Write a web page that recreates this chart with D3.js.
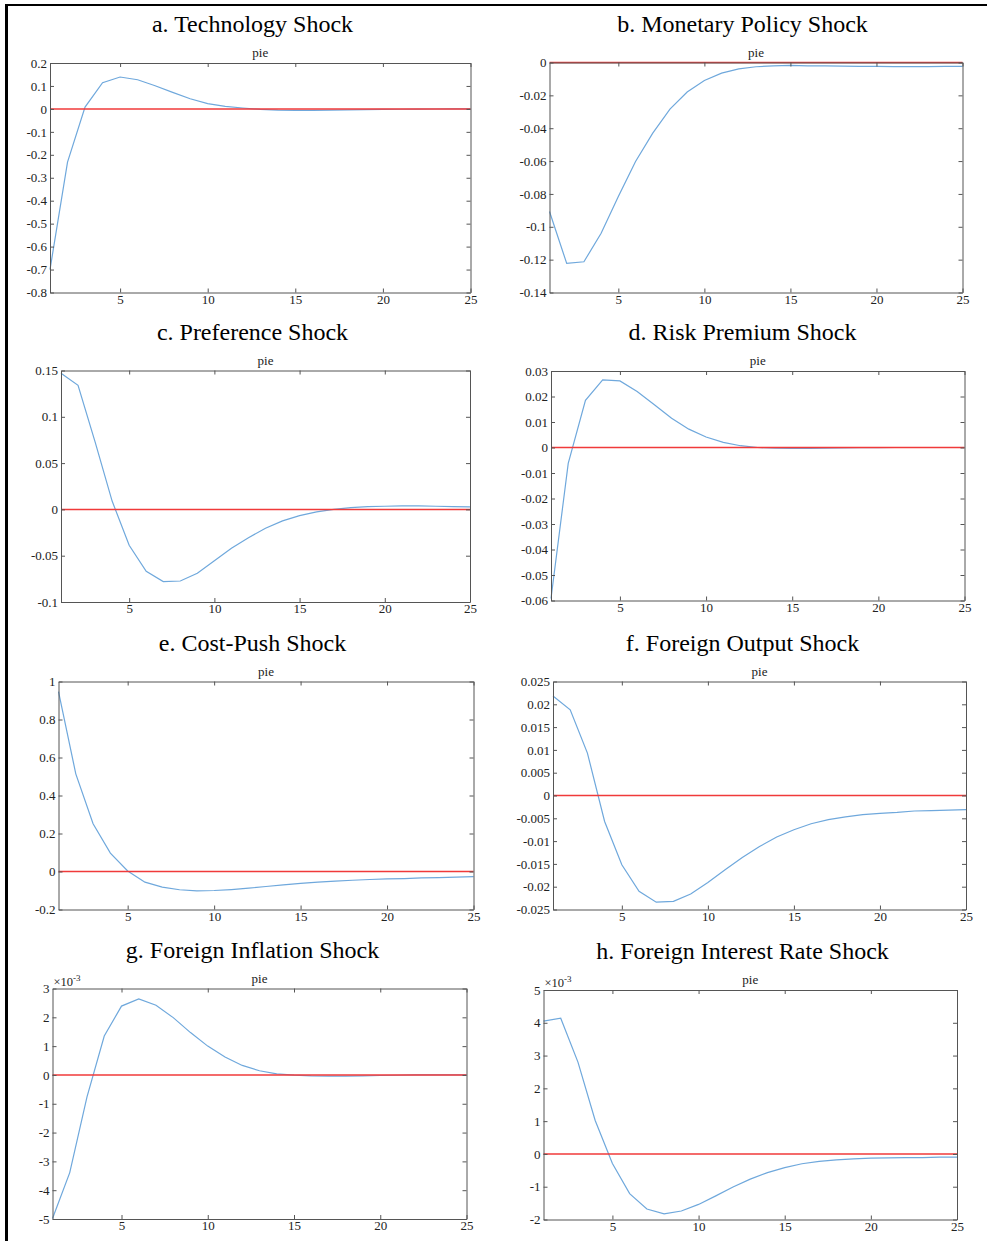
<!DOCTYPE html>
<html lang="en">
<head>
    <meta charset="UTF-8">
    <title>Impulse responses of pie</title>
    <script src="https://d3js.org/d3.v7.min.js"></script>
    <style>
        body {
            margin: 0;
            padding: 0;
            background-color: #ffffff;
            overflow: hidden;
        }

        svg {
            display: block;
        }
    </style>
</head>
<body>
    <script>
        // horizon (quarters)
        const periods = [1, 2, 3, 4, 5, 6, 7, 8, 9, 10, 11, 12, 13, 14, 15, 16, 17, 18, 19, 20, 21, 22, 23, 24, 25];
        const xTicks = [5, 10, 15, 20, 25];

        const titles = [
            "a. Technology Shock", "b. Monetary Policy Shock",
            "c. Preference Shock", "d. Risk Premium Shock",
            "e. Cost-Push Shock", "f. Foreign Output Shock",
            "g. Foreign Inflation Shock", "h. Foreign Interest Rate Shock"
        ];

        // response of pie to each shock
        const irfTech = [-0.70, -0.232, 0.008, 0.114, 0.139, 0.127, 0.101, 0.072, 0.044, 0.023, 0.011, 0.004, -0.002,
            -0.005, -0.006, -0.006, -0.005, -0.004, -0.003, -0.002, -0.0015, -0.001, -0.0005, 0, 0];
        const irfMonetary = [-0.0907, -0.1223, -0.1213, -0.1039, -0.0816, -0.0603, -0.043, -0.0284, -0.018, -0.011,
            -0.0065, -0.0039, -0.0026, -0.002, -0.0018, -0.002, -0.002, -0.0022, -0.0023, -0.0024, -0.0025,
            -0.0025, -0.0025, -0.0024, -0.0024];
        const irfPreference = [0.147, 0.134, 0.073, 0.009, -0.0388, -0.0668, -0.078, -0.0773, -0.069, -0.0555, -0.042,
            -0.0306, -0.0203, -0.0124, -0.0067, -0.0027, 0.0001, 0.0019, 0.003, 0.0034, 0.0037, 0.0037, 0.0034,
            0.003, 0.0027];
        const irfRiskPremium = [-0.0592, -0.0062, 0.0185, 0.0265, 0.0261, 0.022, 0.0168, 0.0115, 0.0072, 0.0041, 0.002,
            0.0007, 0, -0.0003, -0.0004, -0.0004, -0.0003, -0.0002, -0.0001, -0.0001, 0, 0, 0, 0, 0];
        const irfCostPush = [0.947, 0.514, 0.251, 0.0965, 0.003, -0.056, -0.082, -0.096, -0.102, -0.1, -0.095, -0.088,
            -0.079, -0.07, -0.063, -0.056, -0.051, -0.046, -0.042, -0.039, -0.037, -0.034, -0.032, -0.03, -0.027];
        const irfForeignOutput = [0.0218, 0.0188, 0.0093, -0.0057, -0.0152, -0.021, -0.0234, -0.0232, -0.0216, -0.0191,
            -0.0163, -0.0136, -0.0112, -0.0091, -0.0075, -0.0062, -0.0053, -0.0047, -0.0042, -0.0039, -0.0037,
            -0.0034, -0.0033, -0.0032, -0.0031];
        // the last two panels are in units of 10^-3
        const irfForeignInflation = [-4.98, -3.39, -0.76, 1.35, 2.39, 2.64, 2.42, 1.99, 1.47, 1.0, 0.62, 0.33, 0.145,
            0.04, -0.005, -0.03, -0.04, -0.04, -0.03, -0.02, -0.01, 0, 0, 0.005, 0.005];
        const irfForeignRate = [4.05, 4.14, 2.8, 1.02, -0.29, -1.21, -1.68, -1.83, -1.74, -1.54, -1.28, -1.01, -0.77,
            -0.57, -0.42, -0.3, -0.23, -0.18, -0.15, -0.13, -0.12, -0.11, -0.11, -0.1, -0.1];

        // y tick values of each panel
        const ticksTech = [-0.8, -0.7, -0.6, -0.5, -0.4, -0.3, -0.2, -0.1, 0, 0.1, 0.2];
        const ticksMonetary = [-0.14, -0.12, -0.1, -0.08, -0.06, -0.04, -0.02, 0];
        const ticksPreference = [-0.1, -0.05, 0, 0.05, 0.1, 0.15];
        const ticksRiskPremium = [-0.06, -0.05, -0.04, -0.03, -0.02, -0.01, 0, 0.01, 0.02, 0.03];
        const ticksCostPush = [-0.2, 0, 0.2, 0.4, 0.6, 0.8, 1];
        const ticksForeignOutput = [-0.025, -0.02, -0.015, -0.01, -0.005, 0, 0.005, 0.01, 0.015, 0.02, 0.025];
        const ticksForeignInflation = [-5, -4, -3, -2, -1, 0, 1, 2, 3];
        const ticksForeignRate = [-2, -1, 0, 1, 2, 3, 4, 5];

        const series = [irfTech, irfMonetary, irfPreference, irfRiskPremium,
            irfCostPush, irfForeignOutput, irfForeignInflation, irfForeignRate];
        const yTicks = [ticksTech, ticksMonetary, ticksPreference, ticksRiskPremium,
            ticksCostPush, ticksForeignOutput, ticksForeignInflation, ticksForeignRate];
        const scaled = [false, false, false, false, false, false, true, true];

        // plot boxes in page pixels
        const frames = [
            { x0: 50, x1: 470.5, y0: 63, y1: 292.5 },
            { x0: 549.5, x1: 962.5, y0: 62.5, y1: 292.5 },
            { x0: 61, x1: 470, y0: 370.5, y1: 602 },
            { x0: 551, x1: 964.5, y0: 371, y1: 600.5 },
            { x0: 58.5, x1: 473.5, y0: 681.5, y1: 909.5 },
            { x0: 553, x1: 966, y0: 681.5, y1: 909.5 },
            { x0: 52.5, x1: 466.5, y0: 988.5, y1: 1219 },
            { x0: 543.5, x1: 957, y0: 990, y1: 1219.5 }
        ];
        const colCenters = [252.5, 742.5];

        const serif = "'Liberation Serif', 'Times New Roman', serif";
        const width = 987, height = 1241;
        const svg = d3.select("body").append("svg")
            .attr("width", width)
            .attr("height", height)
            .style("font-family", serif);

        // page border (top and left only)
        svg.append("rect").attr("x", 5).attr("y", 4).attr("width", width - 5).attr("height", 2).attr("fill", "#000");
        svg.append("rect").attr("x", 5).attr("y", 4).attr("width", 3).attr("height", height - 4).attr("fill", "#000");

        const fmt = v => String(+v.toFixed(4));
        const tickLen = 4;
        const axisColor = "#555";

        frames.forEach((f, i) => {
            const ticks = yTicks[i];
            const x = d3.scaleLinear().domain([1, 25]).range([f.x0, f.x1]);
            const y = d3.scaleLinear().domain([ticks[0], ticks[ticks.length - 1]]).range([f.y1, f.y0]);
            const g = svg.append("g");

            // panel title
            g.append("text")
                .attr("x", colCenters[i % 2])
                .attr("y", f.y0 - 31)
                .attr("text-anchor", "middle")
                .style("font-family", serif)
                .style("font-size", "24px")
                .attr("fill", "#000")
                .text(titles[i]);

            g.append("text")
                .attr("x", (f.x0 + f.x1) / 2)
                .attr("y", f.y0 - 6)
                .attr("text-anchor", "middle")
                .style("font-family", serif)
                .style("font-size", "13px")
                .attr("fill", "#222")
                .text("pie");

            // response line then zero line
            const line = d3.line()
                .x((d, j) => x(periods[j]))
                .y(d => y(d));

            g.append("path")
                .datum(series[i])
                .attr("fill", "none")
                .attr("stroke", "#6fa8dc")
                .attr("stroke-width", 1.2)
                .attr("d", line);

            g.append("path")
                .datum(periods.map(() => 0))
                .attr("fill", "none")
                .attr("stroke", "#f03a3a")
                .attr("stroke-width", 1.5)
                .attr("d", line);

            // axes with inward ticks on all four sides
            const left = g.append("g")
                .attr("transform", `translate(${f.x0},0)`)
                .call(d3.axisLeft(y).tickValues(ticks).tickFormat(fmt)
                    .tickSizeInner(-tickLen).tickSizeOuter(0).tickPadding(3));
            const right = g.append("g")
                .attr("transform", `translate(${f.x1},0)`)
                .call(d3.axisRight(y).tickValues(ticks).tickFormat("")
                    .tickSizeInner(-tickLen).tickSizeOuter(0));
            const bottom = g.append("g")
                .attr("transform", `translate(0,${f.y1})`)
                .call(d3.axisBottom(x).tickValues(xTicks).tickFormat(d3.format("d"))
                    .tickSizeInner(-tickLen).tickSizeOuter(0).tickPadding(2));
            const top = g.append("g")
                .attr("transform", `translate(0,${f.y0})`)
                .call(d3.axisTop(x).tickValues(xTicks).tickFormat("")
                    .tickSizeInner(-tickLen).tickSizeOuter(0));

            [left, right, bottom, top].forEach(a => {
                a.selectAll(".domain").attr("stroke", axisColor);
                a.selectAll(".tick line").attr("stroke", axisColor);
            });
            [left, bottom].forEach(a => {
                a.selectAll(".tick text")
                    .attr("fill", "#222")
                    .style("font-family", serif)
                    .style("font-size", "13px");
            });

            if (scaled[i]) {
                const e = g.append("text")
                    .attr("x", f.x0 + 1)
                    .attr("y", f.y0 - 3)
                    .style("font-family", serif)
                    .style("font-size", "12.5px")
                    .attr("fill", "#222");
                e.append("tspan").text("\u00d710");
                e.append("tspan").attr("dy", -5).style("font-size", "9px").text("-3");
            }
        });
    </script>
</body>
</html>
